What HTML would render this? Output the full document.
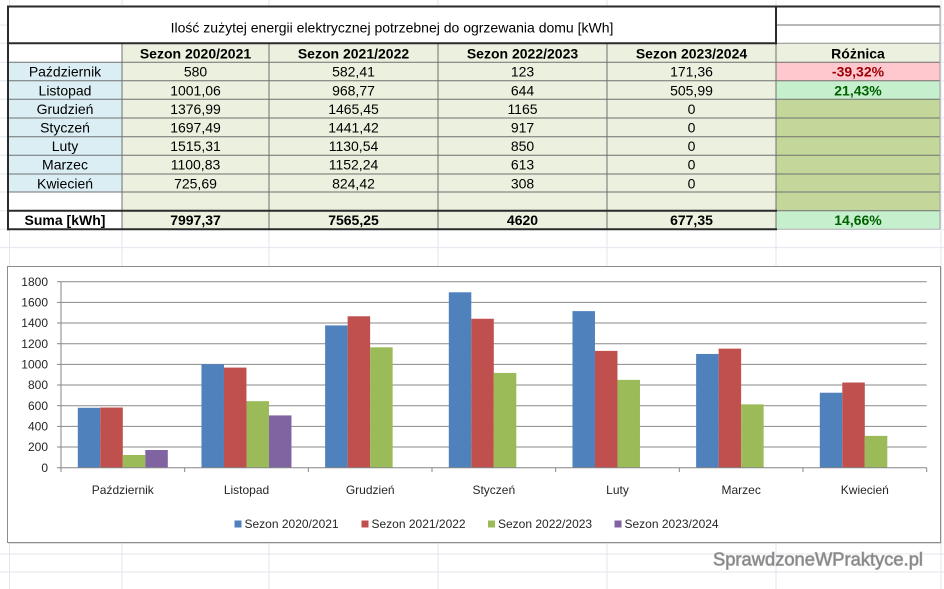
<!DOCTYPE html>
<html><head><meta charset="utf-8"><style>
html,body{margin:0;padding:0;background:#fff;}
svg{display:block;}
.t{font-family:"Liberation Sans",Arial,sans-serif;font-size:14px;fill:#000;}
.b{font-weight:bold;}
.c{font-family:"Liberation Sans",Arial,sans-serif;font-size:12px;fill:#262626;}
</style></head><body>
<svg width="944" height="589" viewBox="0 0 944 589" xmlns="http://www.w3.org/2000/svg">
<!-- spreadsheet gridlines -->
<g stroke="#e2e6ed" stroke-width="1">
<line x1="9.5" y1="0" x2="9.5" y2="589"/>
<line x1="122" y1="0" x2="122" y2="589"/>
<line x1="269" y1="0" x2="269" y2="589"/>
<line x1="438" y1="0" x2="438" y2="589"/>
<line x1="607" y1="0" x2="607" y2="589"/>
<line x1="776" y1="0" x2="776" y2="589"/>
<line x1="941" y1="0" x2="941" y2="589"/>
<line x1="0" y1="25" x2="944" y2="25"/>
<line x1="0" y1="43.3" x2="944" y2="43.3"/>
<line x1="0" y1="62.3" x2="944" y2="62.3"/>
<line x1="0" y1="80.7" x2="944" y2="80.7"/>
<line x1="0" y1="99.3" x2="944" y2="99.3"/>
<line x1="0" y1="118" x2="944" y2="118"/>
<line x1="0" y1="136.7" x2="944" y2="136.7"/>
<line x1="0" y1="155.3" x2="944" y2="155.3"/>
<line x1="0" y1="174" x2="944" y2="174"/>
<line x1="0" y1="192" x2="944" y2="192"/>
<line x1="0" y1="210.7" x2="944" y2="210.7"/>
<line x1="0" y1="229.3" x2="944" y2="229.3"/>
<line x1="0" y1="247.6" x2="944" y2="247.6"/>
<line x1="0" y1="554" x2="944" y2="554"/>
<line x1="0" y1="572" x2="944" y2="572"/>
</g>

<!-- table fills -->
<rect x="8" y="6.5" width="932" height="36.8" fill="#fff"/>
<rect x="8" y="43.3" width="114" height="19" fill="#fff"/>
<rect x="122" y="43.3" width="818" height="186" fill="#ebf1de"/>
<rect x="8" y="62.3" width="114" height="129.7" fill="#dbeef4"/>
<rect x="8" y="192" width="114" height="37.3" fill="#fff"/>
<rect x="776" y="62.3" width="164" height="18.4" fill="#ffc7ce"/>
<rect x="776" y="80.7" width="164" height="18.6" fill="#c6efce"/>
<rect x="776" y="99.3" width="164" height="111.4" fill="#c4d79b"/>
<rect x="776" y="210.7" width="164" height="18.6" fill="#c6efce"/>

<!-- thin inner lines -->
<g stroke="#707070" stroke-width="1">
<line x1="776" y1="25" x2="940" y2="25"/>
<line x1="776" y1="43.3" x2="940" y2="43.3" stroke="#8a8a8a"/>
<line x1="8" y1="62.3" x2="940" y2="62.3"/>
<line x1="8" y1="80.7" x2="940" y2="80.7"/>
<line x1="8" y1="99.3" x2="940" y2="99.3"/>
<line x1="8" y1="118" x2="940" y2="118"/>
<line x1="8" y1="136.7" x2="940" y2="136.7"/>
<line x1="8" y1="155.3" x2="940" y2="155.3"/>
<line x1="8" y1="174" x2="940" y2="174"/>
<line x1="8" y1="192" x2="940" y2="192"/>
<line x1="776" y1="210.7" x2="940" y2="210.7"/>
<line x1="122" y1="43.3" x2="122" y2="229.3"/>
<line x1="269" y1="43.3" x2="269" y2="229.3"/>
<line x1="438" y1="43.3" x2="438" y2="229.3"/>
<line x1="607" y1="43.3" x2="607" y2="229.3"/>
<line x1="776" y1="43.3" x2="776" y2="229.3"/>
<line x1="940" y1="6.5" x2="940" y2="229.3" stroke="#a0a0a0"/>
<line x1="776" y1="229.3" x2="940" y2="229.3" stroke="#b0b0b0"/>
</g>
<!-- thick borders -->
<g stroke="#2a2a2a" stroke-width="2">
<line x1="7" y1="6.5" x2="940" y2="6.5"/>
<line x1="8" y1="5.5" x2="8" y2="230.3"/>
<line x1="7" y1="43.3" x2="777" y2="43.3"/>
<line x1="776" y1="5.5" x2="776" y2="44.3"/>
<line x1="7" y1="210.7" x2="777" y2="210.7"/>
<line x1="7" y1="229.3" x2="777" y2="229.3"/>
</g>

<!-- table text -->
<text class="t" x="392" y="32.5" text-anchor="middle">Ilość zużytej energii elektrycznej potrzebnej do ogrzewania domu [kWh]</text>
<g class="t b" text-anchor="middle">
<text x="195.5" y="58.3">Sezon 2020/2021</text>
<text x="353.5" y="58.3">Sezon 2021/2022</text>
<text x="522.5" y="58.3">Sezon 2022/2023</text>
<text x="691.5" y="58.3">Sezon 2023/2024</text>
<text x="858" y="58.3">Różnica</text>
</g>
<g class="t" text-anchor="middle">
<text x="65" y="76.7">Październik</text>
<text x="65" y="95.3">Listopad</text>
<text x="65" y="113.9">Grudzień</text>
<text x="65" y="132.5">Styczeń</text>
<text x="65" y="151.1">Luty</text>
<text x="65" y="169.7">Marzec</text>
<text x="65" y="188.3">Kwiecień</text>

<text x="195.5" y="76.7">580</text>
<text x="195.5" y="95.3">1001,06</text>
<text x="195.5" y="113.9">1376,99</text>
<text x="195.5" y="132.5">1697,49</text>
<text x="195.5" y="151.1">1515,31</text>
<text x="195.5" y="169.7">1100,83</text>
<text x="195.5" y="188.3">725,69</text>

<text x="353.5" y="76.7">582,41</text>
<text x="353.5" y="95.3">968,77</text>
<text x="353.5" y="113.9">1465,45</text>
<text x="353.5" y="132.5">1441,42</text>
<text x="353.5" y="151.1">1130,54</text>
<text x="353.5" y="169.7">1152,24</text>
<text x="353.5" y="188.3">824,42</text>

<text x="522.5" y="76.7">123</text>
<text x="522.5" y="95.3">644</text>
<text x="522.5" y="113.9">1165</text>
<text x="522.5" y="132.5">917</text>
<text x="522.5" y="151.1">850</text>
<text x="522.5" y="169.7">613</text>
<text x="522.5" y="188.3">308</text>

<text x="691.5" y="76.7">171,36</text>
<text x="691.5" y="95.3">505,99</text>
<text x="691.5" y="113.9">0</text>
<text x="691.5" y="132.5">0</text>
<text x="691.5" y="151.1">0</text>
<text x="691.5" y="169.7">0</text>
<text x="691.5" y="188.3">0</text>
</g>
<g class="t b" text-anchor="middle">
<text x="858" y="76.7" style="fill:#9c0006">-39,32%</text>
<text x="858" y="95.3" style="fill:#006100">21,43%</text>
<text x="65" y="225">Suma [kWh]</text>
<text x="195.5" y="225">7997,37</text>
<text x="353.5" y="225">7565,25</text>
<text x="522.5" y="225">4620</text>
<text x="691.5" y="225">677,35</text>
<text x="858" y="225" style="fill:#006100">14,66%</text>
</g>

<!-- chart box -->
<rect x="8.5" y="267.5" width="933" height="276" fill="#bdbdbd"/>
<rect x="7.5" y="266.5" width="933" height="276" fill="#fff" stroke="#8d8d8d" stroke-width="1"/>

<!-- gridlines -->
<g stroke="#8a8a8a" stroke-width="1">
<line x1="61" y1="447.0" x2="926.7" y2="447.0"/>
<line x1="61" y1="426.4" x2="926.7" y2="426.4"/>
<line x1="61" y1="405.7" x2="926.7" y2="405.7"/>
<line x1="61" y1="385.0" x2="926.7" y2="385.0"/>
<line x1="61" y1="364.4" x2="926.7" y2="364.4"/>
<line x1="61" y1="343.7" x2="926.7" y2="343.7"/>
<line x1="61" y1="323.0" x2="926.7" y2="323.0"/>
<line x1="61" y1="302.4" x2="926.7" y2="302.4"/>
<line x1="61" y1="281.7" x2="926.7" y2="281.7"/>
</g>

<!-- bars -->
<g fill="#4f81bd">
<rect x="77.8" y="407.77" width="22.5" height="59.93"/>
<rect x="201.47" y="364.26" width="22.5" height="103.44"/>
<rect x="325.13" y="325.41" width="22.5" height="142.29"/>
<rect x="448.8" y="292.29" width="22.5" height="175.41"/>
<rect x="572.47" y="311.12" width="22.5" height="156.58"/>
<rect x="696.13" y="353.95" width="22.5" height="113.75"/>
<rect x="819.8" y="392.71" width="22.5" height="74.99"/>
</g>
<g fill="#c0504d">
<rect x="100.3" y="407.52" width="22.5" height="60.18"/>
<rect x="223.97" y="367.59" width="22.5" height="100.11"/>
<rect x="347.63" y="316.27" width="22.5" height="151.43"/>
<rect x="471.3" y="318.75" width="22.5" height="148.95"/>
<rect x="594.97" y="350.88" width="22.5" height="116.82"/>
<rect x="718.63" y="348.64" width="22.5" height="119.06"/>
<rect x="842.3" y="382.51" width="22.5" height="85.19"/>
</g>
<g fill="#9bbb59">
<rect x="122.8" y="454.99" width="22.5" height="12.71"/>
<rect x="246.47" y="401.15" width="22.5" height="66.55"/>
<rect x="370.13" y="347.32" width="22.5" height="120.38"/>
<rect x="493.8" y="372.94" width="22.5" height="94.76"/>
<rect x="617.47" y="379.87" width="22.5" height="87.83"/>
<rect x="741.13" y="404.36" width="22.5" height="63.34"/>
<rect x="864.8" y="435.87" width="22.5" height="31.83"/>
</g>
<g fill="#8064a2">
<rect x="145.3" y="449.99" width="22.5" height="17.71"/>
<rect x="268.97" y="415.41" width="22.5" height="52.29"/>
</g>

<!-- axes -->
<g stroke="#868686" stroke-width="1">
<line x1="61" y1="281.7" x2="61" y2="467.7"/>
<line x1="57" y1="467.7" x2="926.7" y2="467.7"/>
<line x1="57" y1="447.0" x2="61" y2="447.0"/>
<line x1="57" y1="426.4" x2="61" y2="426.4"/>
<line x1="57" y1="405.7" x2="61" y2="405.7"/>
<line x1="57" y1="385.0" x2="61" y2="385.0"/>
<line x1="57" y1="364.4" x2="61" y2="364.4"/>
<line x1="57" y1="343.7" x2="61" y2="343.7"/>
<line x1="57" y1="323.0" x2="61" y2="323.0"/>
<line x1="57" y1="302.4" x2="61" y2="302.4"/>
<line x1="57" y1="281.7" x2="61" y2="281.7"/>
<line x1="61" y1="467.7" x2="61" y2="472"/>
<line x1="184.67" y1="467.7" x2="184.67" y2="472"/>
<line x1="308.33" y1="467.7" x2="308.33" y2="472"/>
<line x1="432" y1="467.7" x2="432" y2="472"/>
<line x1="555.67" y1="467.7" x2="555.67" y2="472"/>
<line x1="679.33" y1="467.7" x2="679.33" y2="472"/>
<line x1="803" y1="467.7" x2="803" y2="472"/>
<line x1="926.7" y1="467.7" x2="926.7" y2="472"/>
</g>

<!-- y labels -->
<g class="c" text-anchor="end">
<text x="48" y="471.8">0</text>
<text x="48" y="451.1">200</text>
<text x="48" y="430.5">400</text>
<text x="48" y="409.8">600</text>
<text x="48" y="389.1">800</text>
<text x="48" y="368.5">1000</text>
<text x="48" y="347.8">1200</text>
<text x="48" y="327.1">1400</text>
<text x="48" y="306.5">1600</text>
<text x="48" y="285.8">1800</text>
</g>
<!-- x labels -->
<g class="c" text-anchor="middle">
<text x="122.8" y="493.8">Październik</text>
<text x="246.5" y="493.8">Listopad</text>
<text x="370.2" y="493.8">Grudzień</text>
<text x="493.8" y="493.8">Styczeń</text>
<text x="617.5" y="493.8">Luty</text>
<text x="741.2" y="493.8">Marzec</text>
<text x="864.8" y="493.8">Kwiecień</text>
</g>
<!-- legend -->
<rect x="234.5" y="520.5" width="7" height="7" fill="#4f81bd"/>
<rect x="361.5" y="520.5" width="7" height="7" fill="#c0504d"/>
<rect x="488" y="520.5" width="7" height="7" fill="#9bbb59"/>
<rect x="614.5" y="520.5" width="7" height="7" fill="#8064a2"/>
<g class="c">
<text x="244.5" y="528.2">Sezon 2020/2021</text>
<text x="371.5" y="528.2">Sezon 2021/2022</text>
<text x="498" y="528.2">Sezon 2022/2023</text>
<text x="624.5" y="528.2">Sezon 2023/2024</text>
</g>

<!-- watermark -->
<text x="713" y="565.5" textLength="210" lengthAdjust="spacingAndGlyphs" style="font-family:'Liberation Sans',Arial,sans-serif;font-size:18.5px;fill:#878787;stroke:#bdbdbd;stroke-width:1;paint-order:stroke;">SprawdzoneWPraktyce.pl</text>
</svg>
</body></html>
